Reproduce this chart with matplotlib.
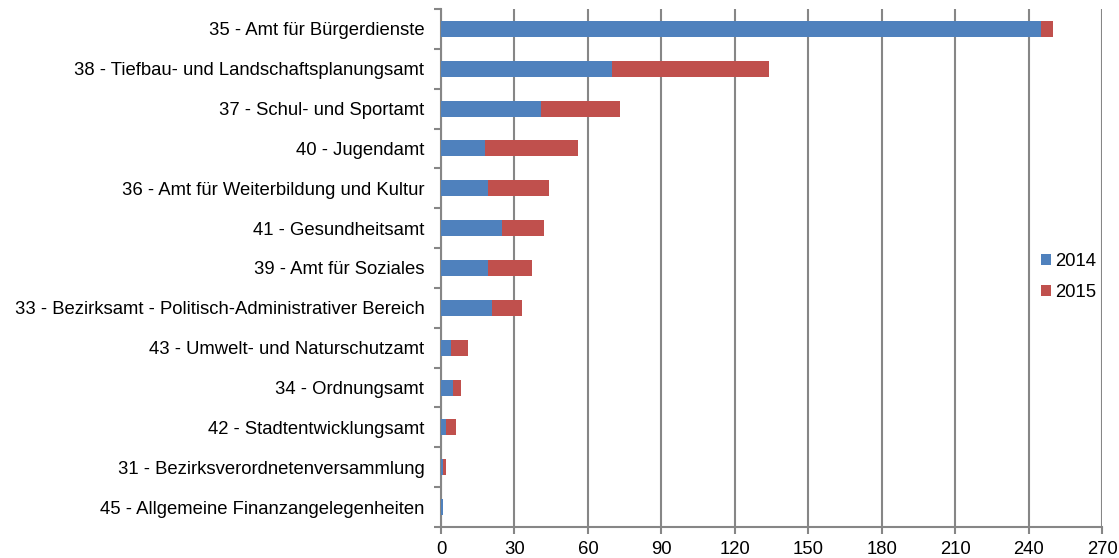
import matplotlib.pyplot as plt
import numpy as np

plt.rcParams['font.family'] = ['Liberation Sans', 'DejaVu Sans']

categories = [
    "35 - Amt für Bürgerdienste",
    "38 - Tiefbau- und Landschaftsplanungsamt",
    "37 - Schul- und Sportamt",
    "40 - Jugendamt",
    "36 - Amt für Weiterbildung und Kultur",
    "41 - Gesundheitsamt",
    "39 - Amt für Soziales",
    "33 - Bezirksamt - Politisch-Administrativer Bereich",
    "43 - Umwelt- und Naturschutzamt",
    "34 - Ordnungsamt",
    "42 - Stadtentwicklungsamt",
    "31 - Bezirksverordnetenversammlung",
    "45 - Allgemeine Finanzangelegenheiten",
]
values_2014 = [245, 70, 41, 18, 19, 25, 19, 21, 4, 5, 2, 1, 1]
values_2015 = [5, 64, 32, 38, 25, 17, 18, 12, 7, 3, 4, 1, 0]
series_labels = ["2014", "2015"]
x_ticks = [0, 30, 60, 90, 120, 150, 180, 210, 240, 270]

blue = "#4F81BD"
red = "#C0504D"
axis_gray = "#868686"
fs = 13.3

fig = plt.figure(figsize=(11.19, 5.58), dpi=100)
ax = fig.add_axes([441 / 1119, 1 - 527 / 558, (1102 - 441) / 1119, (527 - 9) / 558])

n = len(categories)
y = np.arange(n)
ax.barh(y, values_2014, height=0.4, color=blue, label=series_labels[0], zorder=3)
ax.barh(y, values_2015, left=values_2014, height=0.4, color=red,
        label=series_labels[1], zorder=3)

ax.set_ylim(n - 0.5, -0.5)
ax.set_xlim(0, 270)
ax.set_xticks(x_ticks)
ax.set_xticklabels([str(t) for t in x_ticks], fontsize=fs)

ax.set_yticks(y)
ax.set_yticklabels(categories, fontsize=fs)
ax.tick_params(axis='y', length=0, pad=12)
ax.set_yticks(np.arange(n + 1) - 0.5, minor=True)
ax.tick_params(axis='y', which='minor', length=5, width=1.5, color=axis_gray)
ax.tick_params(axis='x', length=5, width=1.5, color=axis_gray, pad=5)

ax.grid(axis='x', color=axis_gray, linewidth=1.5, zorder=0)
ax.set_axisbelow(True)

for side in ['top', 'right']:
    ax.spines[side].set_visible(False)
for side in ['left', 'bottom']:
    ax.spines[side].set_color(axis_gray)
    ax.spines[side].set_linewidth(1.5)

ax.legend(loc='center left', bbox_to_anchor=(0.882, 0.482), frameon=False, fontsize=fs,
          handlelength=0.55, handleheight=0.55, handletextpad=0.25, labelspacing=0.75)

fig.savefig("out.png", dpi=100)
